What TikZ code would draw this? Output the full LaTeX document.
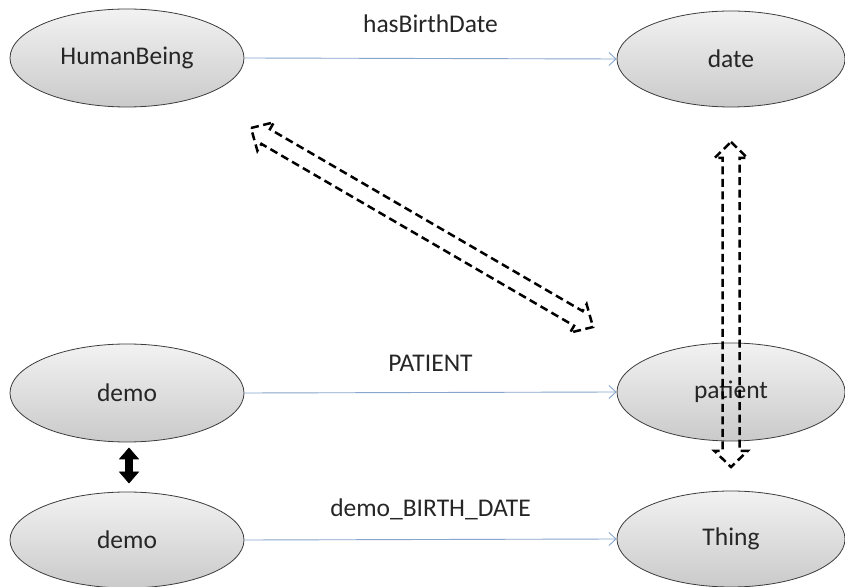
\documentclass[tikz,border=0pt]{standalone}
\usepackage{fontspec}
\setmainfont{Carlito}
\usetikzlibrary{shapes.geometric,arrows.meta}
\definecolor{txt}{RGB}{38,38,38}
\definecolor{edgeblue}{RGB}{135,165,205}
\definecolor{topgray}{RGB}{242,242,242}
\definecolor{botgray}{RGB}{202,202,202}
\definecolor{outl}{RGB}{60,60,60}
\tikzset{
  cls/.style={ellipse, draw=outl, line width=0.8pt, top color=topgray, bottom color=botgray,
    minimum width=234pt, minimum height=98pt, inner sep=0pt, text=txt,
    font=\fontsize{25.5}{30}\selectfont},
  rel/.style={draw=edgeblue, line width=0.9pt, -{Straight Barb[length=7pt,width=13pt]}},
  rellabel/.style={text=txt, font=\fontsize{25.5}{30}\selectfont, inner sep=0pt},
  hollowarrow/.style={draw=black, line width=2.5pt, dash pattern=on 8pt off 4.5pt, line join=miter},
  solidarrow/.style={fill=black, draw=black, line width=0.6pt}
}
\begin{document}
\begin{tikzpicture}[x=1pt,y=1pt]
\useasboundingbox (0,0) rectangle (845,586);
\fill[white] (0,0) rectangle (845,586);
% nodes
\node[cls] (hb) at (127,528) {HumanBeing};
\node[cls, minimum width=228pt, minimum height=96pt] (date) at (731,527) {date};
\node[cls] (demo1) at (127,193) {demo};
\node[cls, minimum width=228pt] (patient) at (731,194) {patient};
\node[cls, minimum height=96pt] (demo2) at (127,46) {demo};
\node[cls, minimum width=228pt, minimum height=96pt] (thing) at (731,47) {Thing};
% relations
\draw[rel] (hb.east) -- (date.west) node[rellabel, midway, above=25pt] (l1) {hasBirthDate};
\draw[rel] (demo1.east) -- (patient.west) node[rellabel, midway, above=21pt] (l2) {PATIENT};
\draw[rel] (demo2.east) -- (thing.west) node[rellabel, midway, above=19pt] (l3) {demo\_BIRTH\_DATE};
% dashed hollow double arrows
\coordinate (d1) at (251,458);
\coordinate (d2) at (593,259);
\begin{scope}[shift={(d1)}, rotate=-30.19]
  \draw[hollowarrow] (0,0) -- (17,16.5) -- (17,8.5) -- (378.7,8.5) -- (378.7,16.5) -- (395.7,0)
    -- (378.7,-16.5) -- (378.7,-8.5) -- (17,-8.5) -- (17,-16.5) -- cycle;
\end{scope}
\coordinate (v1) at (731,444);
\coordinate (v2) at (731,119);
\begin{scope}[shift={(v1)}, rotate=-90]
  \draw[hollowarrow] (0,0) -- (16,16.5) -- (16,8.5) -- (309,8.5) -- (309,16.5) -- (325,0)
    -- (309,-16.5) -- (309,-8.5) -- (16,-8.5) -- (16,-16.5) -- cycle;
\end{scope}
% solid black double arrow
\coordinate (b1) at (129,138);
\coordinate (b2) at (129,103);
\begin{scope}[shift={(b1)}, rotate=-90]
  \filldraw[solidarrow] (0,0) -- (11,9.5) -- (11,3.5) -- (24,3.5) -- (24,9.5) -- (35,0)
    -- (24,-9.5) -- (24,-3.5) -- (11,-3.5) -- (11,-9.5) -- cycle;
\end{scope}
\end{tikzpicture}
\end{document}
